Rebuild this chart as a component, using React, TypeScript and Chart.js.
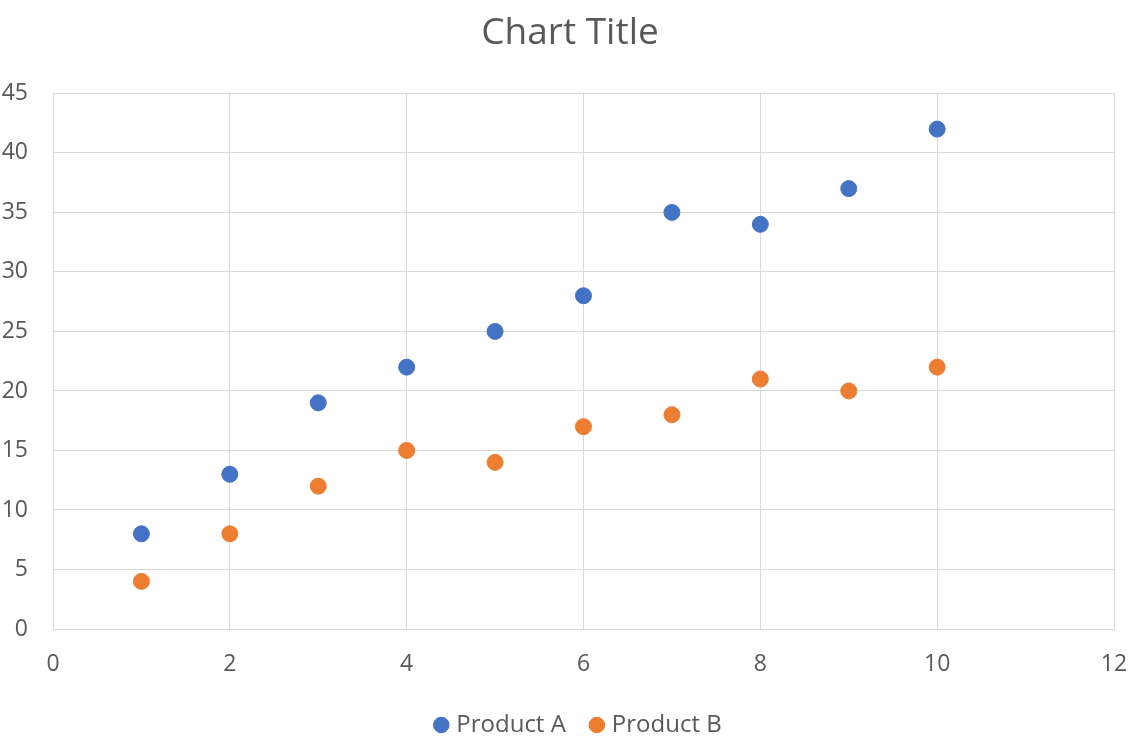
import React, { useEffect, useRef } from "react";
import { Chart, registerables } from "chart.js";

Chart.register(...registerables);

const xValues = [1, 2, 3, 4, 5, 6, 7, 8, 9, 10];
const productA = [8, 13, 19, 22, 25, 28, 35, 34, 37, 42];
const productB = [4, 8, 12, 15, 14, 17, 18, 21, 20, 22];
const seriesNames = ["Product A", "Product B"];
const titleText = "Chart Title";

const FONT = "'Open Sans', 'Noto Sans', sans-serif";
const TEXT = "#595959";
const GRID = "#d9d9d9";

const legendShift = {
  id: "legendShift",
  afterLayout(chart: any) {
    if (chart.legend) {
      chart.legend.left += 10;
      chart.legend.right += 10;
    }
  },
};

export default function App() {
  const ref = useRef<HTMLCanvasElement | null>(null);

  useEffect(() => {
    if (!ref.current) return;
    const chart = new Chart(ref.current, {
      type: "scatter",
      data: {
        datasets: [
          {
            label: seriesNames[0],
            data: xValues.map((x, i) => ({ x, y: productA[i] })),
            backgroundColor: "#4472C4",
            borderColor: "#4472C4",
            pointRadius: 8,
            pointStyle: "circle",
          },
          {
            label: seriesNames[1],
            data: xValues.map((x, i) => ({ x, y: productB[i] })),
            backgroundColor: "#ED7D31",
            borderColor: "#ED7D31",
            pointRadius: 8,
            pointStyle: "circle",
          },
        ],
      },
      plugins: [legendShift],
      options: {
        animation: false,
        responsive: false,
        layout: { padding: { left: 0, right: 0, top: 0, bottom: 0 } },
        plugins: {
          tooltip: { enabled: false },
          title: {
            display: true,
            text: titleText,
            color: TEXT,
            font: { family: FONT, size: 37, weight: "normal" },
            padding: { top: 11, bottom: 38 },
          },
          legend: {
            display: true,
            position: "bottom",
            labels: {
              usePointStyle: true,
              pointStyle: "circle",
              boxWidth: 6,
              boxHeight: 11,
              padding: 28,
              color: TEXT,
              font: { family: FONT, size: 24 },
            },
          },
        },
        scales: {
          x: {
            type: "linear",
            min: 0,
            max: 12,
            ticks: {
              stepSize: 2,
              color: TEXT,
              font: { family: FONT, size: 23 },
              padding: 22,
            },
            grid: { color: GRID, lineWidth: 1, drawTicks: false },
            border: { color: GRID, width: 1 },
            afterFit: (scale: any) => {
              scale.height = 56;
              scale.paddingRight = 0;
              scale.paddingLeft = 0;
            },
          },
          y: {
            type: "linear",
            min: 0,
            max: 45,
            ticks: {
              stepSize: 5,
              color: TEXT,
              font: { family: FONT, size: 23 },
              padding: 25,
            },
            grid: { color: GRID, lineWidth: 1, drawTicks: false },
            border: { color: GRID, width: 1 },
            afterFit: (scale: any) => {
              scale.width = 53;
            },
          },
          yRight: {
            type: "linear",
            position: "right",
            display: true,
            min: 0,
            max: 45,
            ticks: { display: false },
            grid: { display: false, drawTicks: false },
            border: { display: false },
            afterFit: (scale: any) => {
              scale.width = 26;
            },
          },
        },
      },
    });
    return () => chart.destroy();
  }, []);

  return (
    <div style={{ position: "fixed", left: 0, top: 0, width: 1140, height: 747, background: "#fff" }}>
      <canvas ref={ref} width={1140} height={747} style={{ display: "block" }} />
    </div>
  );
}
